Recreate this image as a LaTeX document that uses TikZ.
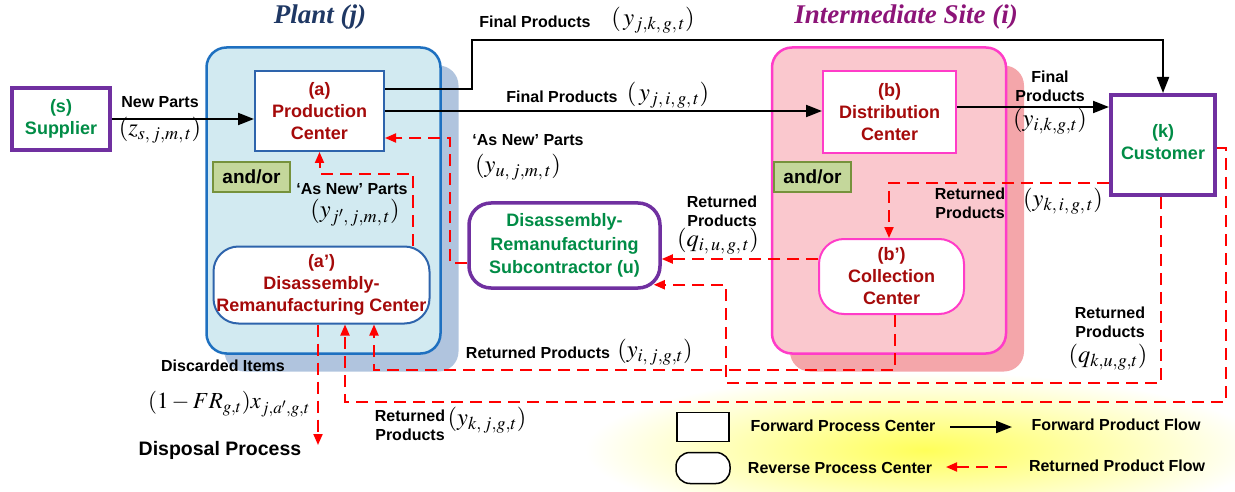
\documentclass[tikz,border=0pt]{standalone}
\usepackage{mathptmx}
\usepackage{fontspec}
\setmainfont{Liberation Sans}
\newfontfamily\serifttl{Liberation Serif}
\usetikzlibrary{arrows.meta,shadows,positioning}

\definecolor{plantfill}{RGB}{210,234,241}
\definecolor{plantline}{RGB}{30,112,192}
\definecolor{plantshade}{RGB}{176,196,222}
\definecolor{sitefill}{RGB}{250,200,206}
\definecolor{siteline}{RGB}{255,60,200}
\definecolor{siteshade}{RGB}{244,166,170}
\definecolor{boxblue}{RGB}{46,100,172}
\definecolor{boxred}{RGB}{165,10,10}
\definecolor{boxgreen}{RGB}{0,140,70}
\definecolor{boxpurple}{RGB}{112,48,160}
\definecolor{andfill}{RGB}{196,215,155}
\definecolor{andline}{RGB}{118,146,60}
\definecolor{plantblue}{RGB}{31,56,100}
\definecolor{sitepurple}{RGB}{140,20,120}
\definecolor{glow}{RGB}{255,255,90}

\newcommand{\bxfont}{\fontsize{18}{22}\selectfont\bfseries}
\newcommand{\lblfont}{\fontsize{16}{19}\selectfont\bfseries}
\newcommand{\mthfont}{\fontsize{24.5}{26}\selectfont}
\newcommand{\ttlfont}{\fontsize{27}{30}\selectfont\serifttl\bfseries\itshape}

\tikzset{
  fwdc/.style={draw, fill=white, line width=2pt, text=boxred, font=\bxfont, align=center, inner sep=0pt},
  revc/.style={fwdc, rounded corners=25pt},
  outbox/.style={draw=boxpurple, line width=4pt, fill=white, text=boxgreen, font=\bxfont, align=center, inner sep=0pt},
  andor/.style={draw=andline, fill=andfill, line width=2pt, font=\fontsize{19}{20}\selectfont\bfseries,
    minimum width=77pt, minimum height=30pt, inner sep=0pt},
  fwd/.style={line width=2pt, -{Triangle[length=16pt,width=12pt]}},
  rtn/.style={color=red, line width=2pt, dash pattern=on 12pt off 7pt, -{Triangle[length=11pt,width=9pt]}},
  lbl/.style={font=\lblfont, align=center, inner sep=0pt},
  mth/.style={font=\mthfont, inner sep=0pt},
  ttl/.style={font=\ttlfont, inner sep=0pt}
}

\begin{document}
\begin{tikzpicture}[x=1pt,y=-1pt]
\useasboundingbox (0,0) rectangle (1235,492);
% glow behind the key
\shade[inner color=glow, outer color=white] (925,450) ellipse [x radius=340pt, y radius=78pt];

% titles
\node[ttl, text=plantblue] (tplant) at (320,17) {Plant (j)};
\node[ttl, text=sitepurple] (tsite) at (906,17) {Intermediate Site (i)};

% plant (j)
\node[draw=plantline, fill=plantfill, line width=2.5pt, rounded corners=20pt,
  minimum width=234pt, minimum height=306pt,
  drop shadow={shadow xshift=18pt, shadow yshift=-18pt, fill=plantshade, opacity=1}] (plant) at (323.5,200.5) {};
\node[fwdc, draw=boxblue, minimum width=129pt, minimum height=80pt] (prod) at (319.5,111) {(a)\\Production\\Center};
\node[andor] (andp) at (251.5,177) {and/or};
\node[revc, draw=boxblue, minimum width=216pt, minimum height=77pt] (remc) at (321.5,285) {(a’)\\Disassembly-\\Remanufacturing Center};

% intermediate site (i)
\node[draw=siteline, fill=sitefill, line width=2.5pt, rounded corners=20pt,
  minimum width=234pt, minimum height=306pt,
  drop shadow={shadow xshift=18pt, shadow yshift=-18pt, fill=siteshade, opacity=1}] (site) at (889,200.5) {};
\node[fwdc, draw=siteline, minimum width=133pt, minimum height=82pt] (dist) at (889.5,112) {(b)\\Distribution\\Center};
\node[andor] (ands) at (812.5,177) {and/or};
\node[revc, draw=siteline, minimum width=145pt, minimum height=75pt] (coll) at (891.5,276.5) {(b’)\\Collection\\Center};

% outside parties
\node[outbox, minimum width=98pt, minimum height=62pt] (supp) at (61,119) {(s)\\Supplier};
\node[outbox, minimum width=104pt, minimum height=100pt] (cust) at (1163,145) {\\[-14pt](k)\\Customer};
\node[outbox, line width=3.5pt, rounded corners=22pt, minimum width=191pt, minimum height=85pt,
  font=\fontsize{18}{23.5}\selectfont\bfseries] (sub) at (564.5,245.5) {Disassembly-\\Remanufacturing\\Subcontractor (u)};

% bends
\coordinate (bjk) at (472,40);
\coordinate (bku) at (726,383);
\coordinate (bij) at (374,370);
\coordinate (bkjR) at (1226,402);
\coordinate (bkjL) at (345,402);
\coordinate (disp) at (318,445);
\coordinate (bjj) at (413,174);
\coordinate (buj) at (450,138);

% forward flow
\draw[fwd] (supp.east) -- (supp.east -| prod.west);
\draw[fwd] ([yshift=22pt]prod.east) -| (bjk) -| (cust.north);
\draw[fwd] (prod.east) -- (prod.east -| dist.west);
\draw[fwd] ([yshift=5pt]dist.east) -- ([yshift=5pt]dist.east -| cust.west);

% returned flow
\draw[rtn] ([yshift=-38pt]cust.west) -| ([xshift=-2.5pt]coll.north);
\draw[rtn] ([yshift=17.5pt]coll.west) -- ([yshift=17.5pt]coll.west -| sub.east);
\draw[rtn] ([xshift=-2pt]cust.south) |- (bku) |- ([shift={(-8pt,5pt)}]sub.south east);
\draw[rtn] ([xshift=3.5pt]coll.south) |- (bij) -- (bij |- remc.south);
\draw[rtn] ([yshift=-3pt]cust.east) -| (bkjR) -- (bkjL) -- (bkjL |- remc.south);
\draw[rtn] (disp |- remc.south) -- (disp);
\draw[rtn] (bjj |- remc.north) -- (bjj) -| (prod.south);
\draw[rtn] ([yshift=-17.5pt]sub.west) -| (buj) -- (buj -| prod.east);

% flow labels
\node[lbl] (lnp) at (160,102) {New Parts};
\node[mth] (mnp) at (160,130) {$(z_{s,\,j,m,\,t})$};
\node[lbl] (lfp1) at (535,22) {Final Products};
\node[mth] (mfp1) at (653,20) {$(\,y_{j,k,\,g,\,t})$};
\node[lbl] (lfp2) at (562,97) {Final Products};
\node[mth] (mfp2) at (668,95) {$(\,y_{j,\,i,\,g,\,t})$};
\node[lbl] (lan1) at (528,140) {‘As New’ Parts};
\node[mth] (man1) at (518,167) {$(y_{u,\,j,m,\,t})$};
\node[lbl] (lan2) at (352,189) {‘As New’ Parts};
\node[mth] (man2) at (355,213) {$(y_{j',\,j,m,\,t})$};
\node[lbl] (lrp1) at (722,211) {Returned\\Products};
\node[mth] (mrp1) at (718,241) {$(q_{i,\,u,\,g,\,t})$};
\node[lbl] (lfp3) at (1050,86) {Final\\Products};
\node[mth] (mfp3) at (1050,121) {$(y_{i,k,g,t})$};
\node[lbl] (lrp2) at (970,203) {Returned\\Products};
\node[mth] (mrp2) at (1063,201) {$(y_{k,\,i,\,g,\,t})$};
\node[lbl] (lrp3) at (1110,322) {Returned\\Products};
\node[mth] (mrp3) at (1108,357) {$(q_{k,u,g,t})$};
\node[lbl] (lrp4) at (538,353) {Returned Products};
\node[mth] (mrp4) at (655,352) {$(y_{i,\,j,g,t})$};
\node[lbl] (lrp5) at (410,425) {Returned\\Products};
\node[mth] (mrp5) at (487,420) {$(y_{k,\,j,g,t})$};
\node[lbl] (ldi) at (223,366) {Discarded Items};
\node[mth, font=\fontsize{23}{25}\selectfont] (mdi) at (229,404) {$(1-FR_{g,t})x_{j,a',g,t}$};
\node[font=\fontsize{19.5}{22}\selectfont\bfseries, inner sep=0pt] (ldp) at (220,450) {Disposal Process};

% key
\node[draw, fill=white, line width=1.5pt, minimum width=52pt, minimum height=29pt] (keyf) at (703,427) {};
\node[draw, fill=white, line width=1.5pt, rounded corners=14pt, minimum width=54pt, minimum height=31pt] (keyr) at (703,468) {};
\node[lbl] (keyft) at (843,426) {Forward Process Center};
\node[lbl] (keyrt) at (840,468) {Reverse Process Center};
\coordinate (kfa) at (950,427);
\coordinate (kfb) at (1012,427);
\coordinate (kra) at (1007,467);
\coordinate (krb) at (946,467);
\draw[fwd] (kfa) -- (kfb);
\draw[rtn] (kra) -- (krb);
\node[lbl] (keyfl) at (1116,425) {Forward Product Flow};
\node[lbl] (keyrl) at (1117,466) {Returned Product Flow};
\end{tikzpicture}
\end{document}
